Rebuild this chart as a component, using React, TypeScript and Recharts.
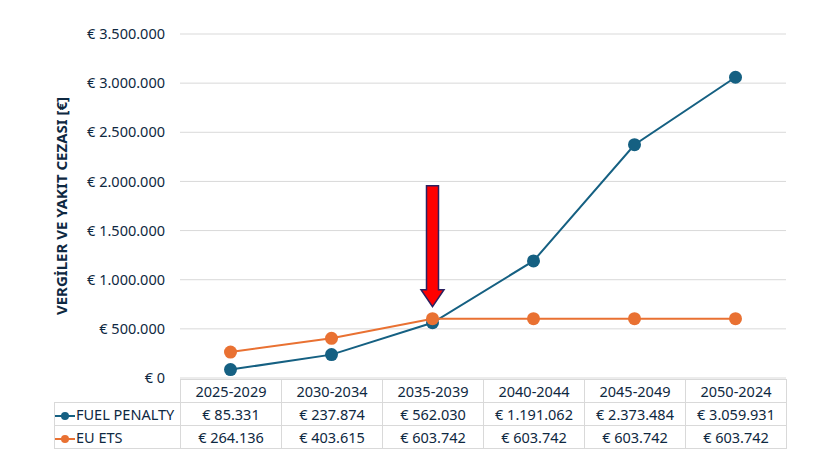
import React from 'react';
import {
  LineChart,
  Line,
  XAxis,
  YAxis,
  CartesianGrid,
  ReferenceDot,
} from 'recharts';

const periods = ['2025-2029', '2030-2034', '2035-2039', '2040-2044', '2045-2049', '2050-2024'];
const fuelPenalty = [85331, 237874, 562030, 1191062, 2373484, 3059931];
const euEts = [264136, 403615, 603742, 603742, 603742, 603742];
const yTicks = [0, 500000, 1000000, 1500000, 2000000, 2500000, 3000000, 3500000];

const TEXT = '#0E2841';
const TEAL = '#156082';
const ORANGE = '#E97132';
const GRID = '#D9D9D9';
const FONT = '"Noto Sans", Arial, sans-serif';

const data = periods.map((p, i) => ({ period: p, fuel: fuelPenalty[i], ets: euEts[i] }));

const euro = (v: number) => '€ ' + String(v).replace(/\B(?=(\d{3})+(?!\d))/g, '.');

const Arrow = (props: any) => {
  const { cx, cy } = props;
  const tip = cy - 12;
  const base = cy - 29;
  const top = cy - 133;
  const pts = [
    [cx - 6, top],
    [cx + 6, top],
    [cx + 6, base],
    [cx + 11.5, base],
    [cx, tip],
    [cx - 11.5, base],
    [cx - 6, base],
  ]
    .map((p) => p.join(','))
    .join(' ');
  return <polygon points={pts} fill="#FF0000" stroke="#2B2160" strokeWidth={1.5} />;
};

const AxisTitle = (props: any) => {
  const { viewBox } = props;
  const x = viewBox.x + 61;
  const y = viewBox.y + viewBox.height / 2;
  return (
    <text
      x={x}
      y={y}
      transform={`rotate(-90 ${x} ${y})`}
      textAnchor="middle"
      dominantBaseline="central"
      fill={TEXT}
      fontWeight="bold"
      fontSize={15}
      fontFamily={FONT}
    >
      VERGİLER VE YAKIT CEZASI [€]
    </text>
  );
};

const cell: React.CSSProperties = {
  border: `1px solid ${GRID}`,
  height: 22,
  padding: 0,
  textAlign: 'center',
  width: 100,
};

const Marker = ({ color }: { color: string }) => (
  <svg width={20} height={10} style={{ verticalAlign: 'middle', marginRight: 1 }}>
    <line x1={0} y1={5} x2={20} y2={5} stroke={color} strokeWidth={2} />
    <circle cx={10} cy={5} r={4} fill={color} />
  </svg>
);

export default function App() {
  return (
    <div style={{ position: 'absolute', left: 0, top: 0, width: 840, height: 467, background: '#fff' }}>
      <LineChart width={840} height={467} data={data} margin={{ top: 34, right: 54, bottom: 89, left: 0 }}>
        <CartesianGrid vertical={false} stroke={GRID} />
        <XAxis dataKey="period" scale="band" hide />
        <YAxis
          width={180}
          domain={[0, 3500000]}
          ticks={yTicks}
          tickFormatter={euro}
          axisLine={false}
          tickLine={false}
          tickSize={0}
          tickMargin={15}
          tick={{ fill: TEXT, fontSize: 14.5, fontFamily: FONT }}
          label={<AxisTitle />}
        />
        <Line
          dataKey="fuel"
          stroke={TEAL}
          strokeWidth={2}
          dot={{ r: 6.5, fill: TEAL, stroke: 'none' }}
          isAnimationActive={false}
        />
        <Line
          dataKey="ets"
          stroke={ORANGE}
          strokeWidth={2}
          dot={{ r: 6.5, fill: ORANGE, stroke: 'none' }}
          isAnimationActive={false}
        />
        <ReferenceDot x={periods[2]} y={euEts[2]} shape={<Arrow />} />
      </LineChart>
      <table
        style={{
          position: 'absolute',
          left: 54,
          top: 379,
          borderCollapse: 'collapse',
          fontFamily: FONT,
          fontSize: 14.5,
          color: TEXT,
        }}
      >
        <tbody>
          <tr>
            <td style={{ width: 125, padding: 0 }} />
            {periods.map((p) => (
              <td key={p} style={cell}>{p}</td>
            ))}
          </tr>
          <tr>
            <td style={{ ...cell, width: 125, textAlign: 'left', whiteSpace: 'nowrap' }}>
              <Marker color={TEAL} />FUEL PENALTY
            </td>
            {fuelPenalty.map((v, i) => (
              <td key={i} style={cell}>{euro(v)}</td>
            ))}
          </tr>
          <tr>
            <td style={{ ...cell, width: 125, textAlign: 'left', whiteSpace: 'nowrap' }}>
              <Marker color={ORANGE} />EU ETS
            </td>
            {euEts.map((v, i) => (
              <td key={i} style={cell}>{euro(v)}</td>
            ))}
          </tr>
        </tbody>
      </table>
    </div>
  );
}
